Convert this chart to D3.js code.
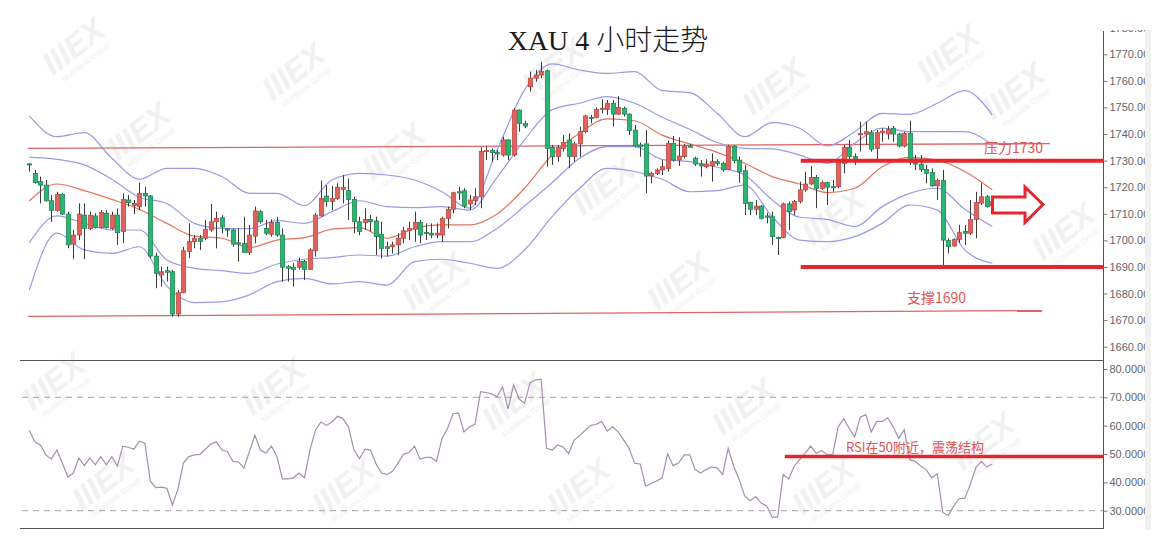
<!DOCTYPE html>
<html><head><meta charset="utf-8">
<script src="https://cdn.jsdelivr.net/npm/d3@7"></script>
<style>body{margin:0;background:#fff;}svg{display:block;}</style>
</head><body>
<script>
// ---------- DATA ----------
const opens = [1728.8,1725.2,1722.1,1720.8,1714.9,1711.2,1717.3,1709.9,1698.6,1702.0,1709.5,1704.5,1709.2,1704.9,1710.2,1704.5,1709.5,1703.3,1715.2,1713.1,1712.7,1717.7,1716.7,1694.1,1687.0,1688.6,1688.2,1672.3,1680.3,1695.8,1699.5,1700.8,1700.8,1703.9,1707.0,1708.5,1704.3,1703.9,1699.1,1698.9,1695.4,1701.6,1710.8,1704.5,1702.3,1706.7,1702.0,1690.1,1689.9,1689.9,1692.0,1689.1,1696.1,1709.2,1716.7,1714.6,1715.8,1719.2,1718.7,1715.4,1707.0,1706.7,1707.9,1707.3,1702.3,1697.6,1697.6,1698.3,1700.8,1703.6,1704.2,1706.8,1703.0,1702.7,1702.0,1702.0,1708.3,1711.7,1718.3,1718.7,1713.7,1715.0,1716.4,1733.4,1733.8,1733.0,1732.1,1737.8,1732.1,1749.0,1744.0,1757.8,1761.0,1762.2,1763.8,1735.0,1731.5,1734.6,1737.8,1731.5,1736.3,1740.9,1746.3,1746.3,1749.3,1749.3,1751.6,1747.5,1749.7,1747.5,1741.5,1735.9,1736.3,1724.2,1725.2,1726.5,1727.1,1736.5,1730.2,1731.5,1735.5,1730.9,1728.7,1727.7,1728.0,1729.6,1729.0,1726.7,1735.3,1730.2,1726.2,1714.2,1711.7,1712.9,1709.2,1708.9,1701.1,1701.1,1713.7,1711.4,1714.6,1719.0,1721.2,1723.7,1719.6,1721.7,1720.2,1720.2,1729.0,1735.0,1731.5,1739.7,1740.0,1740.5,1734.6,1740.5,1740.0,1742.2,1740.0,1735.5,1740.3,1730.6,1728.7,1726.7,1725.5,1720.5,1722.5,1699.9,1697.9,1700.4,1703.3,1702.7,1707.9,1714.0,1716.4,1713.0];
const highs = [1729.0,1726.5,1724.0,1722.7,1717.1,1718.3,1717.9,1710.8,1703.9,1713.9,1713.9,1710.8,1710.2,1711.4,1711.4,1710.8,1712.0,1717.7,1717.1,1715.2,1721.7,1720.2,1717.1,1695.4,1690.1,1690.1,1688.9,1681.3,1697.6,1706.4,1702.0,1702.0,1707.7,1713.7,1710.8,1709.5,1704.5,1704.5,1704.5,1708.9,1705.8,1712.7,1711.4,1707.7,1707.9,1708.9,1704.5,1690.7,1691.4,1693.5,1692.6,1697.0,1710.2,1722.5,1720.8,1720.5,1721.5,1724.6,1723.3,1716.4,1708.9,1712.0,1709.5,1708.9,1707.0,1699.5,1699.5,1702.7,1705.1,1707.0,1710.8,1707.7,1706.4,1706.4,1706.4,1708.9,1712.7,1718.3,1720.2,1719.6,1717.1,1719.6,1735.0,1735.5,1734.6,1734.0,1739.0,1738.0,1749.7,1749.3,1745.0,1763.5,1764.1,1767.2,1764.3,1735.9,1735.9,1739.6,1740.3,1737.1,1742.8,1747.2,1747.2,1750.0,1753.1,1752.8,1752.8,1754.3,1750.3,1747.8,1743.4,1736.8,1741.5,1725.8,1727.1,1730.2,1737.5,1739.3,1738.8,1736.3,1736.3,1731.5,1730.2,1730.5,1732.7,1730.5,1729.6,1735.9,1735.9,1731.5,1728.4,1714.6,1715.2,1713.3,1710.4,1710.8,1701.4,1714.2,1714.6,1715.2,1722.1,1725.8,1728.0,1724.6,1722.5,1722.1,1722.7,1730.2,1735.9,1737.8,1732.7,1744.7,1744.7,1741.5,1741.5,1742.2,1743.0,1743.0,1740.3,1740.9,1745.0,1732.1,1732.1,1728.4,1727.1,1723.3,1726.5,1700.8,1700.8,1705.8,1705.8,1715.2,1718.3,1721.5,1717.1,1715.2];
const lows = [1725.9,1721.4,1713.9,1714.6,1707.0,1710.8,1709.5,1697.0,1692.9,1700.1,1692.9,1703.9,1704.5,1704.5,1704.5,1703.9,1698.3,1698.9,1712.7,1709.9,1711.4,1712.7,1693.2,1682.0,1682.6,1684.5,1671.3,1671.3,1680.1,1693.3,1697.0,1696.4,1700.1,1703.3,1697.0,1702.7,1701.4,1697.6,1692.0,1695.4,1694.5,1698.9,1706.4,1702.0,1701.4,1701.4,1684.5,1684.5,1682.6,1689.0,1685.1,1688.9,1693.9,1708.9,1712.7,1711.4,1715.2,1713.9,1707.7,1702.7,1702.0,1703.9,1703.3,1694.5,1693.2,1693.9,1695.1,1694.5,1698.9,1700.1,1699.5,1698.9,1700.1,1700.8,1700.8,1699.5,1704.5,1710.2,1715.2,1712.1,1711.4,1713.3,1712.1,1730.2,1729.6,1730.2,1731.5,1730.2,1731.5,1740.9,1742.2,1756.0,1759.7,1761.0,1727.7,1728.4,1729.6,1733.4,1727.1,1729.6,1731.5,1740.3,1744.0,1745.9,1747.8,1747.2,1742.8,1747.2,1746.6,1739.6,1735.0,1731.5,1717.7,1721.5,1724.6,1724.6,1725.8,1729.6,1728.0,1730.9,1735.0,1728.0,1724.0,1727.1,1722.1,1728.0,1725.8,1726.5,1729.0,1721.7,1709.5,1709.5,1709.5,1707.9,1706.4,1698.3,1694.5,1700.8,1703.9,1709.5,1713.9,1718.3,1720.8,1712.1,1719.0,1713.3,1718.3,1719.6,1725.2,1730.2,1728.4,1733.4,1735.9,1733.4,1730.5,1737.1,1738.0,1737.1,1735.0,1735.0,1728.4,1726.5,1725.8,1721.5,1720.2,1715.2,1690.1,1695.1,1697.6,1699.1,1698.3,1702.0,1700.8,1713.3,1712.4,1712.7];
const closes = [1728.6,1721.7,1720.8,1714.9,1711.2,1717.3,1709.9,1698.3,1702.0,1709.9,1704.5,1709.5,1704.9,1710.5,1704.9,1709.5,1702.9,1715.4,1714.2,1713.9,1717.7,1716.7,1694.1,1687.6,1688.2,1688.0,1672.3,1680.3,1696.1,1699.5,1700.8,1699.6,1704.2,1707.0,1708.3,1705.1,1703.9,1698.6,1698.6,1695.4,1702.0,1711.1,1707.0,1702.7,1706.7,1702.0,1689.9,1689.5,1689.1,1692.0,1689.1,1696.4,1709.5,1715.8,1714.6,1715.8,1720.0,1720.0,1715.4,1707.0,1703.3,1707.9,1707.0,1701.4,1697.0,1697.0,1698.3,1700.8,1703.6,1704.5,1706.8,1702.0,1702.7,1702.0,1702.7,1708.3,1711.7,1717.9,1717.9,1712.9,1715.2,1716.4,1733.4,1733.8,1733.0,1732.5,1737.8,1732.1,1749.0,1744.0,1743.0,1761.0,1762.2,1763.5,1734.6,1731.5,1735.0,1736.8,1731.5,1736.3,1740.9,1746.8,1745.9,1749.3,1749.7,1751.6,1747.5,1750.0,1747.5,1741.3,1735.5,1735.2,1724.2,1725.2,1726.5,1727.7,1736.5,1730.2,1731.7,1735.5,1735.3,1728.7,1728.0,1728.7,1729.6,1729.0,1726.5,1735.3,1730.0,1725.8,1713.9,1711.7,1712.9,1708.3,1708.7,1701.4,1700.8,1713.7,1710.8,1714.6,1719.0,1721.2,1723.7,1719.6,1721.7,1720.0,1720.0,1729.2,1735.0,1731.5,1730.6,1740.2,1740.9,1734.3,1740.5,1741.1,1741.8,1740.0,1735.5,1740.3,1730.5,1728.7,1726.7,1725.2,1720.5,1722.5,1700.1,1697.6,1700.4,1702.9,1702.7,1707.9,1714.2,1716.4,1712.7,1714.6];

// Bollinger band values read at every 5th bar
const bandBars = [0,5,10,15,20,25,30,35,40,45,50,55,60,65,70,75,80,85,90,95,100,105,110,115,120,125,130,135,140,145,150,155,160,165,170,175];
const upperOuter = [1746.8,1739.0,1740.5,1730.9,1723.0,1727.1,1727.1,1724.0,1717.7,1717.7,1713.1,1722.7,1725.2,1724.6,1722.7,1718.3,1712.1,1734.0,1756.6,1766.4,1764.1,1762.8,1763.5,1756.3,1755.6,1747.8,1739.0,1744.3,1742.2,1735.5,1740.9,1747.8,1747.4,1751.6,1756.3,1747.2];
const upperInner = [1731.2,1730.5,1728.4,1723.0,1716.2,1713.9,1706.4,1704.5,1704.4,1707.4,1706.4,1710.8,1714.9,1712.7,1712.3,1712.7,1711.4,1723.7,1737.8,1749.1,1751.6,1754.1,1751.6,1746.3,1741.8,1736.8,1734.6,1734.4,1732.1,1729.0,1736.5,1742.2,1740.9,1740.9,1740.9,1735.9];
const middleBand = [1714.8,1721.2,1718.7,1715.4,1711.7,1706.4,1701.6,1700.8,1697.3,1700.1,1701.0,1704.2,1704.8,1700.8,1704.5,1705.8,1705.8,1709.9,1719.6,1732.1,1740.3,1745.7,1745.0,1739.6,1736.3,1733.1,1729.0,1724.0,1721.2,1718.0,1719.6,1727.7,1731.2,1730.2,1725.9,1719.0];
const lowerInner = [1699.1,1709.2,1706.4,1703.9,1703.9,1692.6,1689.5,1688.6,1687.6,1691.1,1692.9,1693.5,1694.5,1694.1,1697.6,1699.5,1699.5,1704.5,1712.9,1721.7,1730.9,1735.3,1735.3,1730.5,1729.6,1727.5,1724.6,1715.2,1708.7,1707.9,1705.2,1712.7,1717.7,1719.6,1711.7,1705.2];
const lowerOuter = [1681.3,1702.7,1696.4,1695.1,1697.6,1682.8,1676.6,1676.9,1679.5,1684.5,1685.7,1683.6,1684.5,1683.2,1692.0,1692.9,1691.4,1689.5,1696.4,1708.9,1719.6,1727.1,1725.9,1723.0,1718.3,1718.7,1720.8,1708.9,1700.1,1699.5,1701.4,1706.4,1713.3,1711.4,1696.4,1691.4];

const rsi = [58.4,54.3,53.2,49.7,48.2,51.4,46.8,41.9,43.3,48.6,45.9,48.6,46.2,49.1,46.2,49.1,45.7,52.8,52.4,51.7,54.5,53.8,40.4,38.1,38.3,37.9,32.0,37.5,46.8,49.1,49.7,49.9,51.7,53.5,54.3,51.4,50.9,47.4,47.2,45.1,50.9,56.6,51.4,50.3,52.8,49.1,41.2,41.2,41.6,43.3,41.6,51.4,58.4,61.3,60.1,61.3,63.3,62.5,59.6,51.4,48.4,51.7,51.4,46.6,43.3,42.8,43.9,46.8,49.9,50.5,52.8,48.2,48.8,48.8,47.4,55.5,59.0,64.2,64.4,57.8,59.6,60.5,72.0,71.7,71.2,70.2,73.7,65.9,74.4,69.4,67.9,75.2,76.1,76.4,52.0,51.4,53.2,52.5,50.1,54.9,56.5,58.3,60.1,60.4,61.5,58.1,59.6,57.8,55.0,52.0,46.8,46.5,38.7,39.6,40.5,41.6,50.1,45.9,46.8,49.7,49.7,44.5,43.3,44.5,45.4,45.1,42.8,52.0,45.7,41.0,35.2,33.5,35.0,32.7,31.7,27.7,27.7,42.8,41.2,45.7,48.0,50.3,52.8,50.3,51.2,49.7,49.9,59.6,62.5,59.0,56.1,63.0,63.9,57.8,61.5,61.5,62.8,59.6,55.5,58.6,48.0,47.4,45.7,44.5,41.6,43.0,29.4,28.3,31.7,34.3,34.3,39.3,45.1,47.4,45.4,46.5];

const priceTicks = [1660,1670,1680,1690,1700,1710,1720,1730,1740,1750,1760,1770,1780];
const rsiTicks = [30,40,50,60,70,80];
const rsiDashed = [70,30];

const titleText = "XAU 4 小时走势";
const resistanceLabel = "压力1730", supportLabel = "支撑1690", rsiLabel = "RSI在50附近，震荡结构";
const resistance = 1730, support = 1690, rsiMid = 49.1;
// trend lines: [bar, price] endpoints
const upperTrend = [[-0.3,1734.6],[185.5,1736.4]];
const lowerTrend = [[-0.3,1671.4],[184.0,1673.6]];
const levelStartBar = 140.2, rsiLevelStartBar = 137.3;

// ---------- DRAW ----------
const W = 1164, H = 537;
const svg = d3.select("body").append("svg").attr("width", W).attr("height", H)
  .style("font-family", "'Liberation Sans', Arial, sans-serif");
svg.append("rect").attr("width", W).attr("height", H).attr("fill", "#fff");

const axisX = 1103;
const x = d3.scaleLinear().domain([0, 175]).range([29.3, 992.3]);
const y = d3.scaleLinear().domain([1660, 1770]).range([346.7, 54.3]);
const yr = d3.scaleLinear().domain([30, 80]).range([510.7, 369]);

// faint background watermarks
const wm = [[80,55],[145,140],[300,80],[400,160],[440,290],[560,75],[610,195],[685,290],[780,95],[840,225],[1020,100],[1070,240],[955,62],
            [60,390],[110,490],[280,395],[350,495],[520,410],[585,495],[750,415],[830,495],[990,450]];
const wg = svg.append("g").attr("class","watermarks");
wm.forEach(([cx, cy]) => {
  const g = wg.append("g").attr("transform", `translate(${cx},${cy}) rotate(-38)`);
  g.append("text").attr("text-anchor","middle").attr("font-size",32).attr("font-weight","bold")
    .attr("font-style","italic").attr("fill","#f1f1f1").text("IIIEX");
  g.append("text").attr("text-anchor","middle").attr("y",12).attr("font-size",8)
    .attr("fill","#f0f0f0").text("Multibank Group");
});

// title
svg.append("text").attr("x", 608).attr("y", 50).attr("text-anchor","middle")
  .attr("font-family","'Liberation Serif','Noto Sans CJK SC',serif").attr("font-size", 28)
  .attr("font-weight", 300).attr("fill","#1a1a1a").attr("xml:space","preserve").text(titleText);

// panel lines
svg.append("line").attr("x1", 20).attr("x2", axisX).attr("y1", 360.5).attr("y2", 360.5).attr("stroke","#555").attr("stroke-width",1);
svg.append("line").attr("x1", 20).attr("x2", axisX).attr("y1", 528.5).attr("y2", 528.5).attr("stroke","#555").attr("stroke-width",1);
svg.append("line").attr("x1", axisX+0.5).attr("x2", axisX+0.5).attr("y1", 31).attr("y2", 529).attr("stroke","#555").attr("stroke-width",1);

// RSI dashed levels
svg.selectAll("line.rsidash").data(rsiDashed).join("line").attr("class","rsidash")
  .attr("x1", 22).attr("x2", axisX).attr("y1", d => yr(d)).attr("y2", d => yr(d))
  .attr("stroke","#b5b5b5").attr("stroke-width",1.2).attr("stroke-dasharray","6,5");

// axes labels (clipped)
svg.append("clipPath").attr("id","axclip").append("rect").attr("x", axisX).attr("y", 30).attr("width", 42).attr("height", 505);
svg.append("rect").attr("x", 1145).attr("y", 30).attr("width", 6).attr("height", 500).attr("fill","#f0f0f0");
const axG = svg.append("g").attr("clip-path","url(#axclip)");
const pa = axG.append("g").attr("transform",`translate(${axisX+0.5},0)`)
  .call(d3.axisRight(y).tickValues(priceTicks).tickSize(4).tickPadding(2).tickFormat(d => d.toFixed(2)));
const ra = axG.append("g").attr("transform",`translate(${axisX+0.5},0)`)
  .call(d3.axisRight(yr).tickValues(rsiTicks).tickSize(4).tickPadding(2).tickFormat(d => d.toFixed(4)));
[pa, ra].forEach(a => {
  a.select(".domain").remove();
  a.selectAll("line").attr("stroke","#777");
  a.selectAll("text").attr("fill","#666").attr("font-size",11).attr("font-family","'Liberation Sans',Arial,sans-serif");
});

// trend lines
const tl = d3.line().x(d => x(d[0])).y(d => y(d[1]));
[upperTrend, lowerTrend].forEach(t => svg.append("path").attr("d", tl(t)).attr("fill","none").attr("stroke","#e06464").attr("stroke-width",1.3));

// bands
const bandLine = arr => d3.line().curve(d3.curveMonotoneX).x((d,i) => x(bandBars[i])).y(d => y(d))(arr);
[upperOuter, upperInner, lowerInner, lowerOuter].forEach(b =>
  svg.append("path").attr("d", bandLine(b)).attr("fill","none").attr("stroke","#9a9ae6").attr("stroke-width",1.2));
svg.append("path").attr("d", bandLine(middleBand)).attr("fill","none").attr("stroke","#e2765f").attr("stroke-width",1.2);

// candles
const bars = opens.map((o,i) => ({i, o, h: highs[i], l: lows[i], c: closes[i]}));
const cg = svg.append("g");
cg.selectAll("line.wick").data(bars).join("line").attr("class","wick")
  .attr("x1", d => Math.round(x(d.i)) + 0.5).attr("x2", d => Math.round(x(d.i)) + 0.5)
  .attr("y1", d => y(d.h)).attr("y2", d => y(d.l)).attr("stroke","#3a3a3a").attr("stroke-width",1);
cg.selectAll("rect.body").data(bars).join("rect").attr("class","body")
  .attr("x", d => Math.round(x(d.i)) - 1.7).attr("width", 4.4)
  .attr("y", d => y(Math.max(d.o, d.c)))
  .attr("height", d => Math.max(1.2, Math.abs(y(d.o) - y(d.c))))
  .attr("fill", d => d.c >= d.o ? "#e0625c" : "#2bb573")
  .attr("stroke", d => d.c >= d.o ? "#b94640" : "#1c7f4f").attr("stroke-width", 0.7);

// key levels
svg.append("line").attr("x1", x(levelStartBar)).attr("x2", axisX).attr("y1", y(resistance)).attr("y2", y(resistance)).attr("stroke","#e6262c").attr("stroke-width",4);
svg.append("line").attr("x1", x(levelStartBar)).attr("x2", axisX).attr("y1", y(support)).attr("y2", y(support)).attr("stroke","#e6262c").attr("stroke-width",4);

// RSI line
svg.append("path").attr("d", d3.line().x((d,i) => x(i)).y(d => yr(d))(rsi))
  .attr("fill","none").attr("stroke","#a68fae").attr("stroke-width",1.2);
svg.append("line").attr("x1", x(rsiLevelStartBar)).attr("x2", axisX).attr("y1", yr(rsiMid)).attr("y2", yr(rsiMid)).attr("stroke","#e6262c").attr("stroke-width",3.5);

// labels
const lab = (t, xx, yy, fs) => svg.append("text").attr("x", xx).attr("y", yy).attr("font-size", fs)
  .attr("font-family","'Noto Sans CJK SC','Liberation Sans',sans-serif").attr("fill","#e05454").text(t);
lab(resistanceLabel, 984, 153, 14);
lab(supportLabel, 907, 303, 14);
lab(rsiLabel, 846, 452, 13);

// arrow
svg.append("path").attr("d","M992.5,197 L1025,197 L1025,187 L1043,204.5 L1025,222.5 L1025,213 L992.5,213 Z")
  .attr("fill","#fff").attr("stroke","#e6262c").attr("stroke-width",3).attr("stroke-linejoin","miter");
</script>
</body></html>
